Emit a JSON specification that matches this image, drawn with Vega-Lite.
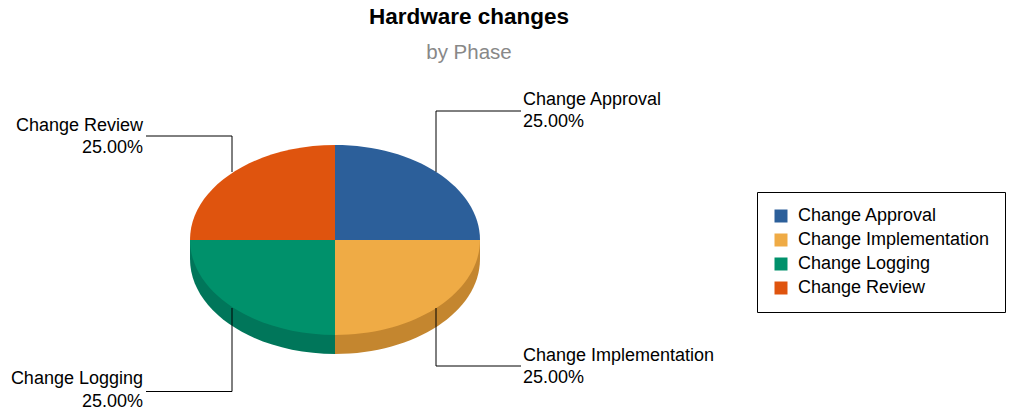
{
  "$schema": "https://vega.github.io/schema/vega-lite/v6.json",
  "width": 670,
  "height": 350,
  "autosize": {"type": "none"},
  "padding": {"left": 0, "top": 65, "right": 351, "bottom": 0},
  "background": "white",
  "title": {
    "text": "Hardware changes",
    "subtitle": "by Phase",
    "anchor": "middle",
    "frame": "group",
    "dx": 134,
    "offset": 2,
    "font": "Liberation Sans",
    "fontSize": 22.5,
    "fontWeight": "bold",
    "color": "black",
    "subtitleFont": "Liberation Sans",
    "subtitleFontSize": 20.5,
    "subtitleColor": "#888888",
    "subtitlePadding": 14
  },
  "datasets": {
    "phases": [
      {"phase": "Change Approval", "share": 0.25},
      {"phase": "Change Implementation", "share": 0.25},
      {"phase": "Change Logging", "share": 0.25},
      {"phase": "Change Review", "share": 0.25}
    ],
    "leaders": [
      {"phase": "Change Approval", "step": 0, "lx": 101, "ly": 68},
      {"phase": "Change Approval", "step": 1, "lx": 101, "ly": 129},
      {"phase": "Change Approval", "step": 2, "lx": 186, "ly": 129},
      {"phase": "Change Implementation", "step": 0, "lx": 101, "ly": -68},
      {"phase": "Change Implementation", "step": 1, "lx": 101, "ly": -126},
      {"phase": "Change Implementation", "step": 2, "lx": 186, "ly": -126},
      {"phase": "Change Logging", "step": 0, "lx": -103, "ly": -68},
      {"phase": "Change Logging", "step": 1, "lx": -103, "ly": -151.5},
      {"phase": "Change Logging", "step": 2, "lx": -189, "ly": -151.5},
      {"phase": "Change Review", "step": 0, "lx": -103, "ly": 68},
      {"phase": "Change Review", "step": 1, "lx": -103, "ly": 104},
      {"phase": "Change Review", "step": 2, "lx": -189, "ly": 104}
    ],
    "labels": [
      {"phase": "Change Approval", "share": 0.25, "tx": 188, "tyName": 135, "tyPct": 113},
      {"phase": "Change Implementation", "share": 0.25, "tx": 188, "tyName": -121, "tyPct": -143},
      {"phase": "Change Logging", "share": 0.25, "tx": -192, "tyName": -143.5, "tyPct": -166.5},
      {"phase": "Change Review", "share": 0.25, "tx": -192, "tyName": 109, "tyPct": 87}
    ]
  },
  "layer": [
    {
      "data": {"name": "phases"},
      "transform": [{"filter": {"field": "phase", "oneOf": ["Change Implementation", "Change Logging"]}}],
      "mark": {"type": "point", "filled": true, "opacity": 1, "strokeWidth": 0, "size": 84100},
      "encoding": {
        "fill": {
          "field": "phase",
          "type": "nominal",
          "scale": {"domain": ["Change Implementation", "Change Logging"], "range": ["#c4862f", "#00765a"]},
          "legend": null
        },
        "shape": {
          "field": "phase",
          "type": "nominal",
          "scale": {
            "domain": ["Change Implementation", "Change Logging"],
            "range": [
              "M0,0 L1,0 L1,0.131 A1,0.655 0 0,1 0,0.786 Z",
              "M0,0 L0,0.786 A1,0.655 0 0,1 -1,0.131 L-1,0 Z"
            ]
          },
          "legend": null
        }
      }
    },
    {
      "data": {"name": "phases"},
      "mark": {"type": "point", "filled": true, "opacity": 1, "strokeWidth": 0, "size": 84100},
      "encoding": {
        "color": {
          "field": "phase",
          "type": "nominal",
          "scale": {
            "domain": ["Change Approval", "Change Implementation", "Change Logging", "Change Review"],
            "range": ["#2c5f9a", "#efab45", "#00916b", "#df540e"]
          },
          "legend": {
            "orient": "none",
            "legendX": 757,
            "legendY": 127,
            "title": null,
            "symbolType": "square",
            "symbolSize": 169,
            "symbolStrokeWidth": 0,
            "labelFont": "Liberation Sans",
            "labelFontSize": 18,
            "labelColor": "black",
            "labelOffset": 8,
            "labelLimit": 400,
            "rowPadding": 6,
            "padding": 15,
            "strokeColor": "black",
            "fillColor": "white"
          }
        },
        "shape": {
          "field": "phase",
          "type": "nominal",
          "scale": {
            "domain": ["Change Approval", "Change Implementation", "Change Logging", "Change Review"],
            "range": [
              "M0,0 L0,-0.655 A1,0.655 0 0,1 1,0 Z",
              "M0,0 L1,0 A1,0.655 0 0,1 0,0.655 Z",
              "M0,0 L0,0.655 A1,0.655 0 0,1 -1,0 Z",
              "M0,0 L-1,0 A1,0.655 0 0,1 0,-0.655 Z"
            ]
          },
          "legend": null
        }
      }
    },
    {
      "data": {"name": "leaders"},
      "mark": {"type": "line", "color": "black", "strokeWidth": 1},
      "encoding": {
        "x": {"field": "lx", "type": "quantitative", "scale": {"domain": [-335, 335], "nice": false, "zero": false}, "axis": null},
        "y": {"field": "ly", "type": "quantitative", "scale": {"domain": [-175, 175], "nice": false, "zero": false}, "axis": null},
        "detail": {"field": "phase", "type": "nominal"},
        "order": {"field": "step", "type": "quantitative"}
      }
    },
    {
      "data": {"name": "labels"},
      "transform": [{"filter": {"field": "phase", "oneOf": ["Change Approval", "Change Implementation"]}}],
      "mark": {"type": "text", "align": "left", "baseline": "alphabetic", "font": "Liberation Sans", "fontSize": 18, "color": "black"},
      "encoding": {
        "x": {"field": "tx", "type": "quantitative"},
        "y": {"field": "tyName", "type": "quantitative"},
        "text": {"field": "phase", "type": "nominal"}
      }
    },
    {
      "data": {"name": "labels"},
      "transform": [{"filter": {"field": "phase", "oneOf": ["Change Approval", "Change Implementation"]}}],
      "mark": {"type": "text", "align": "left", "baseline": "alphabetic", "font": "Liberation Sans", "fontSize": 18, "color": "black"},
      "encoding": {
        "x": {"field": "tx", "type": "quantitative"},
        "y": {"field": "tyPct", "type": "quantitative"},
        "text": {"field": "share", "type": "quantitative", "format": ".2%"}
      }
    },
    {
      "data": {"name": "labels"},
      "transform": [{"filter": {"field": "phase", "oneOf": ["Change Logging", "Change Review"]}}],
      "mark": {"type": "text", "align": "right", "baseline": "alphabetic", "font": "Liberation Sans", "fontSize": 18, "color": "black"},
      "encoding": {
        "x": {"field": "tx", "type": "quantitative"},
        "y": {"field": "tyName", "type": "quantitative"},
        "text": {"field": "phase", "type": "nominal"}
      }
    },
    {
      "data": {"name": "labels"},
      "transform": [{"filter": {"field": "phase", "oneOf": ["Change Logging", "Change Review"]}}],
      "mark": {"type": "text", "align": "right", "baseline": "alphabetic", "font": "Liberation Sans", "fontSize": 18, "color": "black"},
      "encoding": {
        "x": {"field": "tx", "type": "quantitative"},
        "y": {"field": "tyPct", "type": "quantitative"},
        "text": {"field": "share", "type": "quantitative", "format": ".2%"}
      }
    }
  ],
  "resolve": {"scale": {"shape": "independent", "fill": "independent"}},
  "config": {"view": {"stroke": null}}
}
